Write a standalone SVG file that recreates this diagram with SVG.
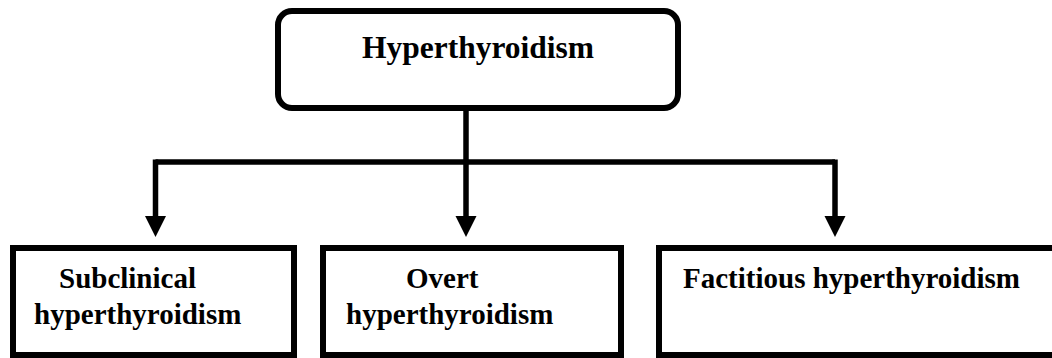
<svg xmlns="http://www.w3.org/2000/svg" width="1052" height="358" viewBox="0 0 1052 358">
  <style>
    .box { fill: #ffffff; stroke: #000000; stroke-width: 6; }
    .lbl { font-family: 'Liberation Serif', 'DejaVu Serif', serif; font-weight: 700; fill: #000000; }
    .top { font-size: 31.5px; }
    .sub { font-size: 29px; }
    .conn { fill: none; stroke: #000000; stroke-width: 5.5; stroke-linejoin: miter; }
  </style>
  <rect width="1052" height="358" fill="#ffffff"/>

  <g id="connectors">
    <path class="conn" d="M466,108 L466,217"/>
    <path class="conn" d="M155.5,162 L835,162"/>
    <path class="conn" d="M155.5,159.5 L155.5,217"/>
    <path class="conn" d="M835,159.5 L835,217"/>
    <polygon points="145,216 166,216 155.5,237" fill="#000000"/>
    <polygon points="455.5,216 476.5,216 466,237" fill="#000000"/>
    <polygon points="824.5,216 845.5,216 835,237" fill="#000000"/>
  </g>

  <g id="node-hyperthyroidism">
    <rect class="box" x="278" y="11" width="400" height="97" rx="14" ry="14"/>
    <text class="lbl top" x="478" y="58" text-anchor="middle">Hyperthyroidism</text>
  </g>

  <g id="node-subclinical">
    <rect class="box" x="13" y="248" width="281" height="107"/>
    <text class="lbl sub" x="59" y="288">Subclinical</text>
    <text class="lbl sub" x="34" y="324">hyperthyroidism</text>
  </g>

  <g id="node-overt">
    <rect class="box" x="323" y="248" width="298" height="107"/>
    <text class="lbl sub" x="406" y="288">Overt</text>
    <text class="lbl sub" x="346" y="324">hyperthyroidism</text>
  </g>

  <g id="node-factitious">
    <rect class="box" x="659" y="248" width="396" height="107"/>
    <text class="lbl sub" x="683" y="288">Factitious hyperthyroidism</text>
  </g>
</svg>
